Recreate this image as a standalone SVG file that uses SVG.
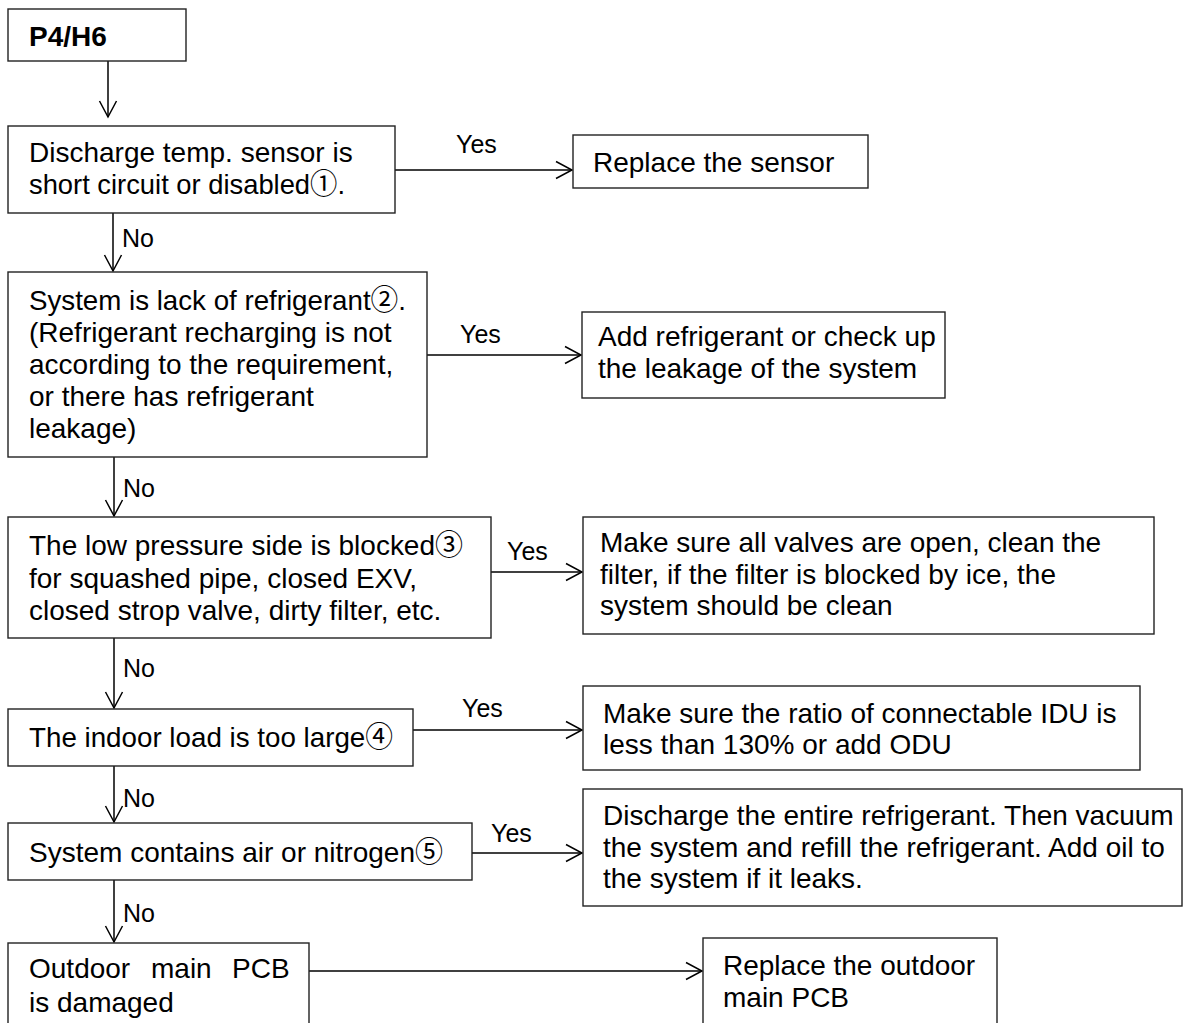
<svg xmlns="http://www.w3.org/2000/svg" width="1183" height="1023" viewBox="0 0 1183 1023">
<style>
.box{fill:#fff;stroke:#222;stroke-width:1.4}
.t{font-family:"Liberation Sans","Noto Sans CJK SC",sans-serif;font-size:28px;fill:#000}
.b{font-weight:bold}
.lbl{font-family:"Liberation Sans",Arial,sans-serif;font-size:25px;fill:#000}
.c{stroke:#000;stroke-width:1.5;fill:none;marker-end:url(#ah)}
</style>
<defs>
<marker id="ah" markerUnits="userSpaceOnUse" markerWidth="20" markerHeight="20" viewBox="-17 -10 19 20" refX="0" refY="0" orient="auto">
<path d="M-16,-8.5 L0,0 L-16,8.5" fill="none" stroke="#000" stroke-width="1.5"/>
</marker>
</defs>
<rect width="1183" height="1023" fill="#fff"/>
<g id="connectors">
<line class="c" x1="108" y1="61" x2="108" y2="117"/>
<line class="c" x1="395" y1="170" x2="572" y2="170"/>
<line class="c" x1="113" y1="213" x2="113" y2="271"/>
<line class="c" x1="427" y1="355" x2="581" y2="355"/>
<line class="c" x1="114" y1="457" x2="114" y2="516"/>
<line class="c" x1="491" y1="572" x2="582" y2="572"/>
<line class="c" x1="114" y1="638" x2="114" y2="708"/>
<line class="c" x1="413" y1="730" x2="582" y2="730"/>
<line class="c" x1="114" y1="766" x2="114" y2="822"/>
<line class="c" x1="472" y1="853" x2="582" y2="853"/>
<line class="c" x1="114" y1="880" x2="114" y2="942"/>
<line class="c" x1="309" y1="971" x2="702" y2="971"/>
<text class="lbl" x="456" y="153">Yes</text>
<text class="lbl" x="122" y="247">No</text>
<text class="lbl" x="460" y="343">Yes</text>
<text class="lbl" x="123" y="497">No</text>
<text class="lbl" x="507" y="560">Yes</text>
<text class="lbl" x="123" y="677">No</text>
<text class="lbl" x="462" y="717">Yes</text>
<text class="lbl" x="123" y="807">No</text>
<text class="lbl" x="491" y="842">Yes</text>
<text class="lbl" x="123" y="922">No</text>
</g>
<g id="n-start">
<rect class="box" x="8" y="9" width="178" height="52"/>
<text class="t b" x="29" y="46">P4/H6</text>
</g>
<g id="n-sensor">
<rect class="box" x="8" y="126" width="387" height="87"/>
<text class="t" x="29" y="162">Discharge temp. sensor is</text>
<text class="t" x="29" y="194" textLength="316" lengthAdjust="spacingAndGlyphs">short circuit or disabled①.</text>
</g>
<g id="n-replace-sensor">
<rect class="box" x="573" y="135" width="295" height="53"/>
<text class="t" x="593" y="172">Replace the sensor</text>
</g>
<g id="n-lack">
<rect class="box" x="8" y="272" width="419" height="185"/>
<text class="t" x="29" y="310" textLength="377" lengthAdjust="spacingAndGlyphs">System is lack of refrigerant②.</text>
<text class="t" x="29" y="342">(Refrigerant recharging is not</text>
<text class="t" x="29" y="374">according to the requirement,</text>
<text class="t" x="29" y="406">or there has refrigerant</text>
<text class="t" x="29" y="438">leakage)</text>
</g>
<g id="n-add">
<rect class="box" x="582" y="312" width="363" height="86"/>
<text class="t" x="598" y="346">Add refrigerant or check up</text>
<text class="t" x="598" y="378">the leakage of the system</text>
</g>
<g id="n-lowp">
<rect class="box" x="8" y="517" width="483" height="121"/>
<text class="t" x="29" y="555" textLength="434" lengthAdjust="spacingAndGlyphs">The low pressure side is blocked③</text>
<text class="t" x="29" y="588">for squashed pipe, closed EXV,</text>
<text class="t" x="29" y="620">closed strop valve, dirty filter, etc.</text>
</g>
<g id="n-valves">
<rect class="box" x="583" y="517" width="571" height="117"/>
<text class="t" x="600" y="552">Make sure all valves are open, clean the</text>
<text class="t" x="600" y="584">filter, if the filter is blocked by ice, the</text>
<text class="t" x="600" y="615">system should be clean</text>
</g>
<g id="n-load">
<rect class="box" x="8" y="709" width="405" height="57"/>
<text class="t" x="29" y="747" textLength="364" lengthAdjust="spacingAndGlyphs">The indoor load is too large④</text>
</g>
<g id="n-ratio">
<rect class="box" x="583" y="686" width="557" height="84"/>
<text class="t" x="603" y="723">Make sure the ratio of connectable IDU is</text>
<text class="t" x="603" y="754">less than 130% or add ODU</text>
</g>
<g id="n-air">
<rect class="box" x="8" y="823" width="464" height="57"/>
<text class="t" x="29" y="862" textLength="414" lengthAdjust="spacingAndGlyphs">System contains air or nitrogen⑤</text>
</g>
<g id="n-discharge">
<rect class="box" x="583" y="789" width="599" height="117"/>
<text class="t" x="603" y="825">Discharge the entire refrigerant. Then vacuum</text>
<text class="t" x="603" y="857">the system and refill the refrigerant. Add oil to</text>
<text class="t" x="603" y="888">the system if it leaks.</text>
</g>
<g id="n-pcb">
<rect class="box" x="8" y="943" width="301" height="90"/>
<text class="t" y="978"><tspan x="29">Outdoor</tspan><tspan x="151">main</tspan><tspan x="232">PCB</tspan></text>
<text class="t" x="29" y="1012">is damaged</text>
</g>
<g id="n-replace-pcb">
<rect class="box" x="703" y="938" width="294" height="95"/>
<text class="t" x="723" y="975">Replace the outdoor</text>
<text class="t" x="723" y="1007">main PCB</text>
</g>
</svg>
